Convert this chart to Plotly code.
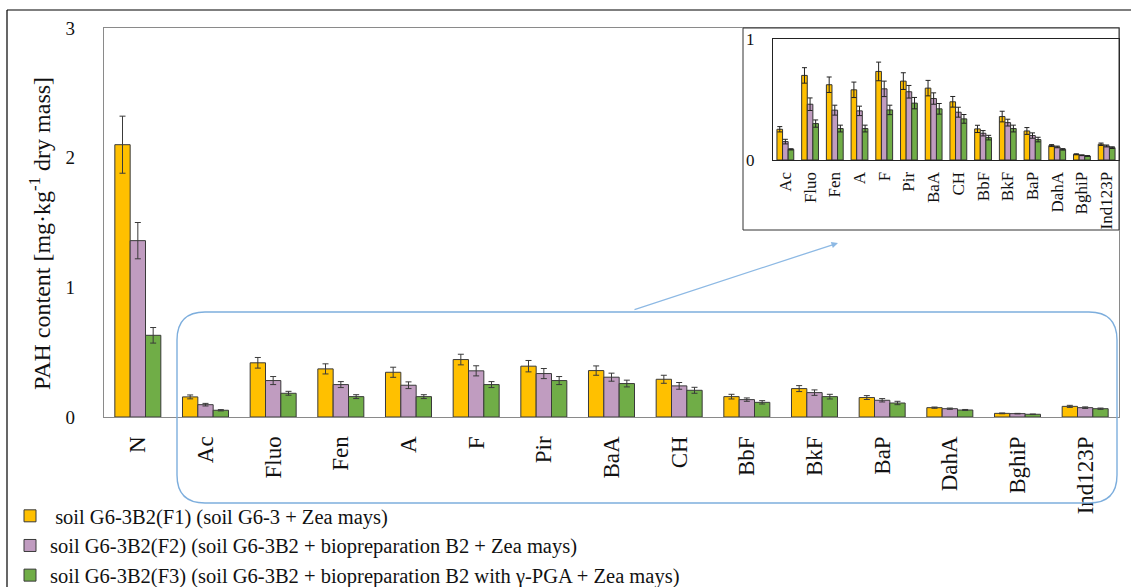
import plotly.graph_objects as go

# ---------------- data ----------------
categories = ["N", "Ac", "Fluo", "Fen", "A", "F", "Pir", "BaA", "CH",
              "BbF", "BkF", "BaP", "DahA", "BghiP", "Ind123P"]
f1 = [2.10, 0.155, 0.418, 0.371, 0.345, 0.443, 0.392, 0.358, 0.291, 0.157, 0.219, 0.150, 0.072, 0.028, 0.082]
f1_err = [0.22, 0.015, 0.041, 0.039, 0.039, 0.041, 0.044, 0.036, 0.031, 0.018, 0.023, 0.015, 0.005, 0.003, 0.008]
f2 = [1.36, 0.095, 0.281, 0.250, 0.245, 0.356, 0.335, 0.307, 0.240, 0.134, 0.188, 0.129, 0.064, 0.026, 0.072]
f2_err = [0.14, 0.010, 0.031, 0.023, 0.026, 0.039, 0.039, 0.031, 0.026, 0.013, 0.021, 0.013, 0.005, 0.002, 0.006]
f3 = [0.63, 0.052, 0.183, 0.157, 0.157, 0.250, 0.281, 0.258, 0.206, 0.113, 0.157, 0.108, 0.054, 0.021, 0.064]
f3_err = [0.06, 0.005, 0.015, 0.015, 0.015, 0.023, 0.031, 0.026, 0.023, 0.013, 0.018, 0.013, 0.004, 0.002, 0.005]

inset_categories = ["Ac", "Fluo", "Fen", "A", "F", "Pir", "BaA", "CH",
                    "BbF", "BkF", "BaP", "DahA", "BghiP", "Ind123P"]
inset_f1 = [0.254, 0.699, 0.622, 0.580, 0.732, 0.652, 0.594, 0.481, 0.257, 0.359, 0.240, 0.119, 0.047, 0.130]
inset_f1_err = [0.022, 0.064, 0.064, 0.064, 0.077, 0.069, 0.064, 0.044, 0.030, 0.044, 0.028, 0.008, 0.004, 0.010]
inset_f2 = [0.152, 0.461, 0.412, 0.406, 0.588, 0.564, 0.508, 0.395, 0.221, 0.309, 0.202, 0.108, 0.039, 0.116]
inset_f2_err = [0.019, 0.052, 0.041, 0.039, 0.064, 0.052, 0.047, 0.041, 0.022, 0.028, 0.022, 0.007, 0.003, 0.008]
inset_f3 = [0.088, 0.301, 0.260, 0.260, 0.414, 0.470, 0.423, 0.340, 0.185, 0.260, 0.169, 0.088, 0.033, 0.102]
inset_f3_err = [0.005, 0.030, 0.028, 0.028, 0.039, 0.047, 0.044, 0.036, 0.019, 0.028, 0.019, 0.006, 0.003, 0.007]

series_names = [
    " soil G6-3B2(F1) (soil G6-3 + Zea mays)",
    "soil G6-3B2(F2) (soil G6-3B2 + biopreparation B2 + Zea mays)",
    "soil G6-3B2(F3) (soil G6-3B2 + biopreparation B2 with \u03b3-PGA + Zea mays)",
]
colors = ["#FFC000", "#C09CC0", "#70AD47"]

FONT = "Liberation Serif"

# ---------------- geometry helpers (pixel -> paper) ----------------
W, H = 1131, 587
L_PX, R_PX, T_PX, B_PX = 104, 1119, 28, 417


def px(x):
    return (x - L_PX) / (R_PX - L_PX)


def py(y):
    return (B_PX - y) / (B_PX - T_PX)


fig = go.Figure()

main_vals = [(f1, f1_err), (f2, f2_err), (f3, f3_err)]
for (vals, errs), name, col in zip(main_vals, series_names, colors):
    fig.add_trace(go.Bar(
        x=categories, y=vals, name=name,
        marker=dict(color=col, line=dict(color="#3a3a3a", width=1)),
        error_y=dict(type="data", array=errs, color="#3a3a3a", thickness=1, width=3),
        xaxis="x", yaxis="y",
    ))

inset_vals = [(inset_f1, inset_f1_err), (inset_f2, inset_f2_err), (inset_f3, inset_f3_err)]
for (vals, errs), name, col in zip(inset_vals, series_names, colors):
    fig.add_trace(go.Bar(
        x=inset_categories, y=vals, name=name, showlegend=False,
        marker=dict(color=col, line=dict(color="#333333", width=1)),
        error_y=dict(type="data", array=errs, color="#222222", thickness=1, width=2.5),
        xaxis="x2", yaxis="y2",
    ))

# rounded rectangle highlighting the small compounds
Lr, Tr, Rr, Br, rad = 177, 312, 1117, 503, 28
pts = [
    ("M", [(Lr + rad, Tr)]),
    ("L", [(Rr - rad, Tr)]),
    ("Q", [(Rr, Tr), (Rr, Tr + rad)]),
    ("L", [(Rr, Br - rad)]),
    ("Q", [(Rr, Br), (Rr - rad, Br)]),
    ("L", [(Lr + rad, Br)]),
    ("Q", [(Lr, Br), (Lr, Br - rad)]),
    ("L", [(Lr, Tr + rad)]),
    ("Q", [(Lr, Tr), (Lr + rad, Tr)]),
]
path = " ".join(cmd + " " + " ".join(f"{px(a):.5f},{py(b):.5f}" for a, b in p) for cmd, p in pts) + " Z"

shapes = [
    dict(type="path", xref="paper", yref="paper", path=path,
         line=dict(color="#7DAEDD", width=1.4)),
    # outer frame (left + top)
    dict(type="line", xref="paper", yref="paper", x0=px(7), x1=px(1135), y0=py(10), y1=py(10),
         line=dict(color="#000000", width=1.2)),
    dict(type="line", xref="paper", yref="paper", x0=px(7), x1=px(7), y0=py(10), y1=py(592),
         line=dict(color="#000000", width=1.2)),
    # inset frame
    dict(type="rect", xref="paper", yref="paper", x0=px(743), x1=px(1119), y0=py(230), y1=py(28),
         line=dict(color="#333333", width=1)),
]

annotations = [
    dict(text="PAH content [mg\u00b7kg<sup>-1</sup> dry mass]", xref="paper", yref="paper",
         x=px(40), y=py(234), xanchor="center", yanchor="middle", textangle=-90, showarrow=False,
         font=dict(family=FONT, size=24, color="#111111")),
    dict(text="", xref="paper", yref="paper", x=px(838), y=py(243),
         ax=-205, ay=67, axref="pixel", ayref="pixel", showarrow=True,
         arrowhead=2, arrowsize=1, arrowwidth=1.3, arrowcolor="#8DB9E4", standoff=0),
]

fig.update_layout(
    width=W, height=H,
    margin=dict(l=L_PX, r=W - R_PX, t=T_PX, b=H - B_PX, autoexpand=False),
    paper_bgcolor="white", plot_bgcolor="white",
    barmode="group", bargap=0.32, bargroupgap=0,
    font=dict(family=FONT, color="#111111"),
    xaxis=dict(domain=[0, 1], showline=True, linecolor="#8a8a8a", linewidth=1.3, mirror=True,
               tickangle=-90, tickfont=dict(family=FONT, size=23), ticks="",
               showgrid=False, zeroline=False, ticklabelstandoff=9, automargin=False),
    yaxis=dict(domain=[0, 1], range=[0, 3], tickvals=[0, 1, 2, 3], showline=True,
               linecolor="#8a8a8a", linewidth=1.3, mirror=True, showgrid=False, zeroline=False,
               ticks="", tickfont=dict(family=FONT, size=19), ticklabelstandoff=24, automargin=False),
    xaxis2=dict(domain=[px(773), 1], anchor="y2", showline=True, linecolor="#222222", linewidth=1.2,
                mirror=True, tickangle=-90, tickfont=dict(family=FONT, size=17), ticks="",
                showgrid=False, zeroline=False, ticklabelstandoff=4, automargin=False),
    yaxis2=dict(domain=[py(160), py(39)], anchor="x2", range=[0, 1], tickvals=[0, 1],
                showline=True, linecolor="#222222", linewidth=1.2, mirror=True, showgrid=False,
                zeroline=False, ticks="", tickfont=dict(family=FONT, size=17), ticklabelstandoff=14,
                automargin=False),
    legend=dict(x=px(10), y=py(496), xanchor="left", yanchor="top", orientation="v",
                font=dict(family=FONT, size=20.5, color="#111111"), bgcolor="rgba(0,0,0,0)",
                tracegroupgap=0, itemwidth=30),
    shapes=shapes,
    annotations=annotations,
)

fig.write_html(
    "out.html",
    config={"displayModeBar": False},
    post_script="document.body.style.margin='0';document.body.style.padding='0';"
                "document.body.style.overflow='hidden';",
)
